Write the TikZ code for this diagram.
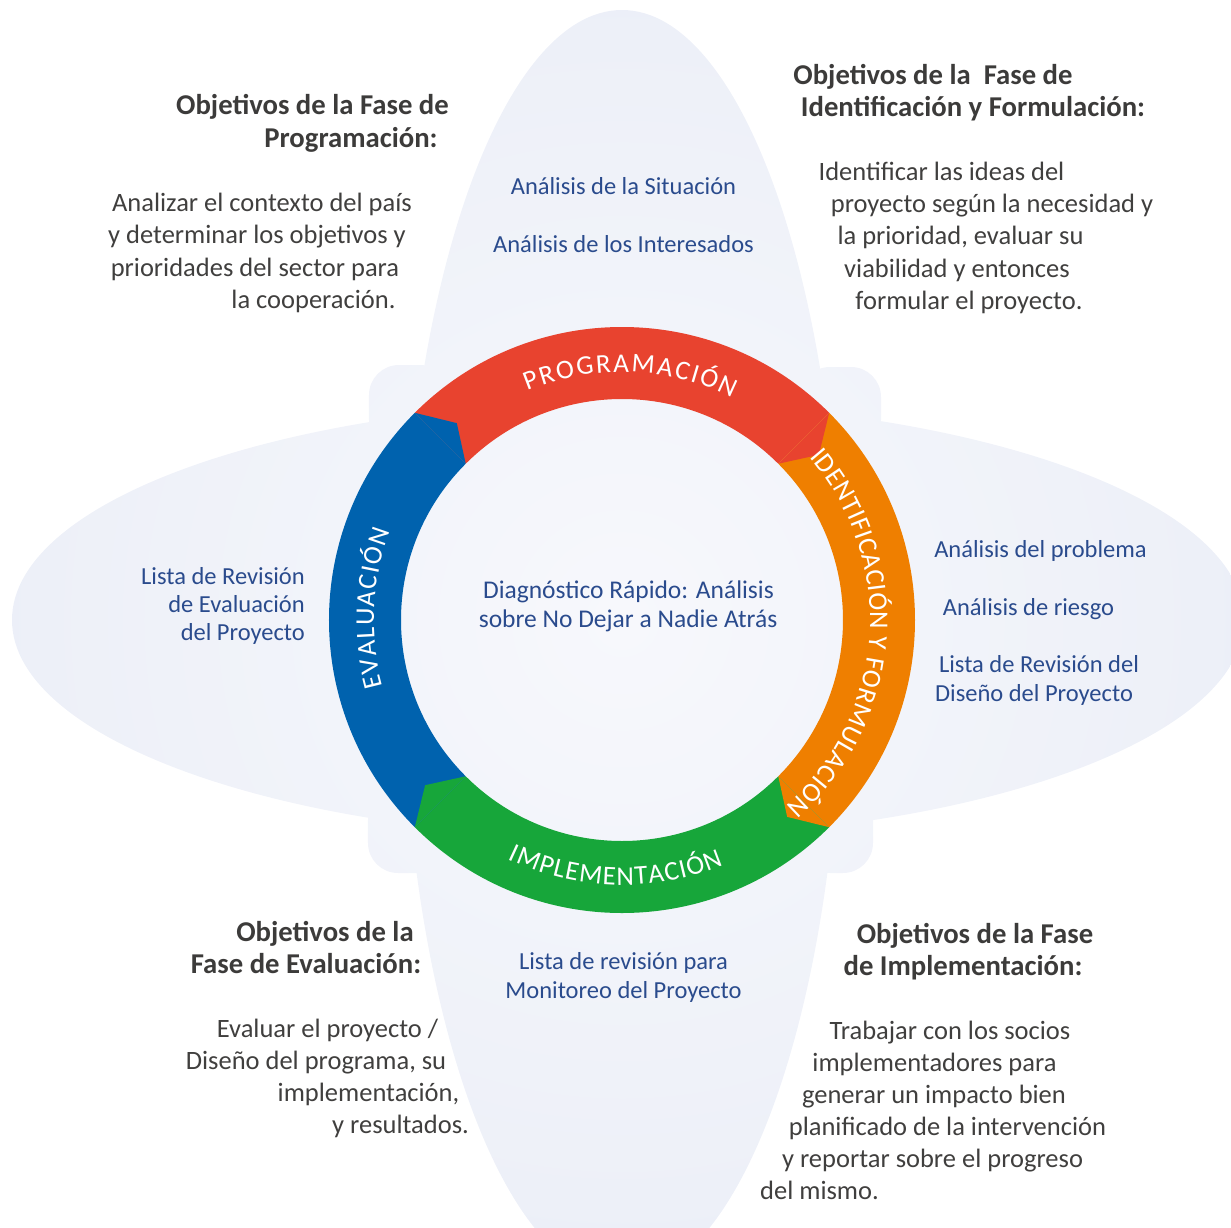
\documentclass[tikz,border=0pt]{standalone}
\usepackage{fontspec}
\setmainfont{Carlito}
\usetikzlibrary{decorations.text}
\definecolor{cred}{HTML}{E8432F}
\definecolor{corange}{HTML}{EF7F00}
\definecolor{cgreen}{HTML}{17A63A}
\definecolor{cblue}{HTML}{0062AE}
\definecolor{cgray}{HTML}{3C3B3A}
\definecolor{cbody}{HTML}{403F3E}
\definecolor{ctext}{HTML}{2A4B8D}
\definecolor{bgA}{HTML}{F7F8FC}
\definecolor{bgB}{HTML}{EDF0F8}
\definecolor{bgC}{HTML}{E2E6F4}
\definecolor{bgD}{HTML}{D4DAEF}
\definecolor{bgE}{HTML}{CED5EC}
\pgfdeclareradialshading{bgshade}{\pgfpoint{0bp}{0bp}}{color(0bp)=(bgA); color(21bp)=(bgB); color(32bp)=(bgC); color(44bp)=(bgD); color(50bp)=(bgE)}
\newcommand{\bgpiece}[1]{\begin{scope}\clip #1; \shade[shading=bgshade] (-700,-700) rectangle (700,700);\end{scope}}
\newcommand{\ringsector}[3]{\fill[#1] (#2:293) arc[start angle=#2, end angle=#3, radius=293] -- (#3:221) arc[start angle=#3, end angle=#2, radius=221] -- cycle;}
\newcommand{\ringtip}[3]{\fill[#1] (#2:293) -- (#3:257) -- (#2:221) -- cycle;}
\tikzset{
  hdr/.style={anchor=base, inner sep=0pt, text=cgray, font=\bfseries\fontsize{28.7}{28.7}\selectfont},
  body/.style={anchor=base, inner sep=0pt, text=cbody, font=\fontsize{26.5}{26.5}\selectfont},
  item/.style={anchor=base, inner sep=0pt, text=ctext, font=\fontsize{24.5}{24.5}\selectfont},
  ctr/.style={anchor=base, inner sep=0pt, text=ctext, font=\fontsize{25.5}{25.5}\selectfont},
  ringtext/.style={decorate, decoration={text along path, text align=fit to path, text color=white, text={#1}}}
}
\newcommand{\rfont}{\fontsize{27}{27}\selectfont}
\begin{document}
\begin{tikzpicture}[x=1pt,y=1pt]
\path[use as bounding box] (-622,-607) rectangle (609,620);
% background
\bgpiece{(0,-25) ellipse [x radius=220, y radius=635]}
\bgpiece{(6,0) ellipse [x radius=616, y radius=218]}
\bgpiece{[rounded corners=30] (-253,255) rectangle (-172,170)}
\bgpiece{[rounded corners=30] (178,253) rectangle (259,170)}
\bgpiece{[rounded corners=30] (-254,-170) rectangle (-172,-253)}
\bgpiece{[rounded corners=30] (178,-170) rectangle (251,-253)}
% ring
\ringsector{cred}{135}{45}
\ringsector{corange}{45}{-45}
\ringsector{cgreen}{-45}{-135}
\ringsector{cblue}{-135}{-225}
\ringtip{cred}{45}{40}
\ringtip{corange}{-45}{-50}
\ringtip{cgreen}{-135}{-140}
\ringtip{cblue}{135}{130}
\path[ringtext={|\rfont|PROGRAMACIÓN}] (112.5:248) arc[start angle=112.5, end angle=63.5, radius=248];
\path[ringtext={|\rfont|IDENTIFICACIÓN Y FORMULACIÓN}] (41:248) arc[start angle=41, end angle=-48.5, radius=248];
\path[ringtext={|\rfont|IMPLEMENTACIÓN}] (244.5:265) arc[start angle=244.5, end angle=292.5, radius=265];
\path[ringtext={|\rfont|EVALUACIÓN}] (195.5:248) arc[start angle=195.5, end angle=159, radius=248];
% texts in pixel coordinates
\begin{scope}[shift={(-622,620)},yscale=-1]
\node[hdr] (tl1) at (312.5,115) {Objetivos de la Fase de};
\node[hdr] (tl2) at (351,148) {Programación:};
\node[body] (tlb1) at (262,212) {Analizar el contexto del país};
\node[body] (tlb2) at (257,244) {y determinar los objetivos y};
\node[body] (tlb3) at (255,276) {prioridades del sector para};
\node[body] (tlb4) at (313.5,308) {la cooperación.};
\node[item] (tc1) at (623.5,194.5) {Análisis de la Situación};
\node[item] (tc2) at (623.5,252.5) {Análisis de los Interesados};
\node[hdr] (tr1) at (933,85) {Objetivos de la\ \ Fase de};
\node[hdr] (tr2) at (973,117) {Identificación y Formulación:};
\node[body] (trb1) at (941.5,181) {Identificar las ideas del};
\node[body] (trb2) at (992,213) {proyecto según la necesidad y};
\node[body] (trb3) at (960.5,245) {la prioridad, evaluar su};
\node[body] (trb4) at (957,277) {viabilidad y entonces};
\node[body] (trb5) at (969,309) {formular el proyecto.};
\node[item] (r1) at (1040.5,557) {Análisis del problema};
\node[item] (r2) at (1028.5,615) {Análisis de riesgo};
\node[item] (r3) at (1039,672) {Lista de Revisión del};
\node[item] (r4) at (1034,701) {Diseño del Proyecto};
\node[item, anchor=base east] (l1) at (305,584.5) {Lista de Revisión};
\node[item, anchor=base east] (l2) at (305,612.5) {de Evaluación};
\node[item, anchor=base east] (l3) at (305,640.5) {del Proyecto};
\node[ctr] (c1) at (628.5,598) {Diagnóstico Rápido: Análisis};
\node[ctr] (c2) at (628,627) {sobre No Dejar a Nadie Atrás};
\node[item] (b1) at (623.5,969.5) {Lista de revisión para};
\node[item] (b2) at (623.5,998.5) {Monitoreo del Proyecto};
\node[hdr] (bl1) at (325,941) {Objetivos de la};
\node[hdr] (bl2) at (306,973) {Fase de Evaluación:};
\node[body] (blb1) at (327.5,1037) {Evaluar el proyecto /};
\node[body] (blb2) at (316,1069) {Diseño del programa, su};
\node[body] (blb3) at (368.5,1101) {implementación,};
\node[body] (blb4) at (400.5,1133) {y resultados.};
\node[hdr] (br1) at (975,943) {Objetivos de la Fase};
\node[hdr] (br2) at (963,975) {de Implementación:};
\node[body] (brb1) at (950,1039) {Trabajar con los socios};
\node[body] (brb2) at (934.5,1071) {implementadores para};
\node[body] (brb3) at (934,1103) {generar un impacto bien};
\node[body] (brb4) at (947.5,1135) {planificado de la intervención};
\node[body] (brb5) at (932.5,1167) {y reportar sobre el progreso};
\node[body] (brb6) at (819.5,1199) {del mismo.};
\end{scope}
\end{tikzpicture}
\end{document}
